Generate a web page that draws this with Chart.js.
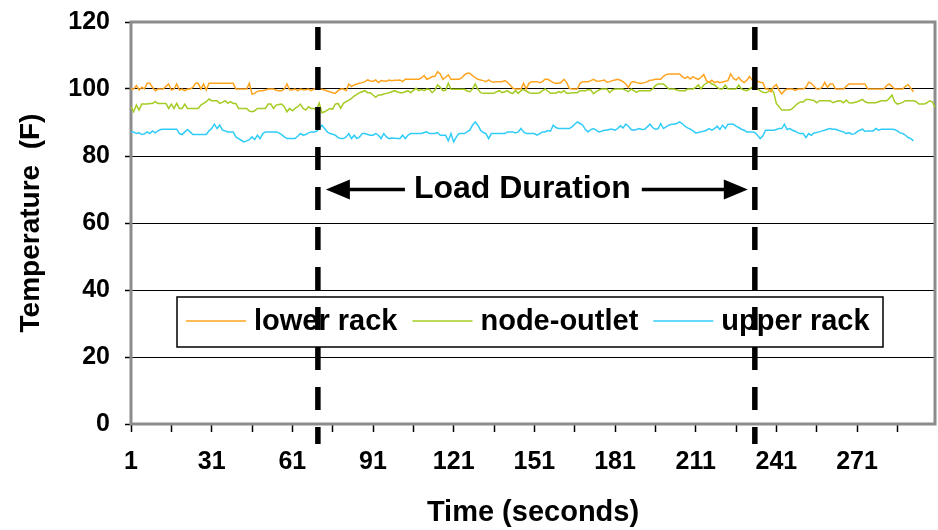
<!DOCTYPE html>
<html>
<head>
<meta charset="utf-8">
<title>Rack temperatures under load</title>
<script src="https://cdn.jsdelivr.net/npm/chart.js@4.4.1/dist/chart.umd.min.js"></script>
<style>
  html, body { margin: 0; padding: 0; background: #fff; }
  canvas { display: block; }
</style>
</head>
<body>
<canvas id="tempChart" width="938" height="530"></canvas>
<script>
// time axis: one sample per second
const seconds = Array.from({ length: 300 }, (_, i) => i + 1);
const tickEvery = 15;   // tick mark spacing (samples)
const labelEvery = 30;  // tick label spacing (samples)

const yTicks = { min: 0, max: 120, step: 20 };

// start / end of the load, in seconds, and where the caption sits (F)
const loadWindow = [70.5, 233];
const loadLabel = 'Load Duration';
const loadLabelTemp = 70;

const seriesNames = ['lower rack', 'node-outlet', 'upper rack'];
const seriesColors = ['#FFA41F', '#A4CC24', '#30CCF8'];

const lowerRack = [
  100, 100, 101, 99.7, 100.5, 100, 101.7, 101.7, 100.5, 99.5,
  100, 100, 100, 100.8, 101.5, 99.7, 100, 101.5, 99.7, 100,
  99.5, 100, 100, 100.5, 101.7, 101.7, 100, 101.5, 99.7, 101.7,
  101.7, 101.7, 101.7, 101.7, 101.7, 101.7, 101.7, 101.7, 101.7, 100,
  100, 100, 100, 100, 101.7, 98.5, 98.7, 99.3, 99.5, 99.5, 99.7,
  100, 100, 100, 99.6, 99.5, 99.5, 100, 101.5, 99.7, 99.8,
  100, 99.5, 100, 99.8, 99.8, 100, 99.5, 100, 100, 100,
  99.9, 99.7, 99.4, 99.2, 98.9, 98.7, 99.5, 100, 100,
  99.5, 101.5, 100.7, 101.2, 101.5, 101.7, 101.9, 102.2, 102.7, 102.4,
  102.3, 102.7, 101.9, 102.5, 102.4, 102.3, 102.7, 102.5, 102.6, 102.6,
  102.7, 102.2, 102.9, 102.9, 102.9, 102.9, 102.9, 102.9, 103.3, 104.0,
  102.9, 103.2, 103.7, 103.7, 105.2, 104.5, 102.9, 103.5, 104.2, 102.9,
  102.9, 102.9, 102.9, 103.3, 104.2, 104.7, 104.7, 104.0, 103.4, 102.9,
  102.7, 102.5, 102.2, 102.7, 102.2, 102.0, 102.2, 102.2, 102.2, 102.5,
  102.0, 101.2, 100.2, 100, 100, 100, 101.7, 100, 101.7, 102.2, 102.2,
  102.2, 101.9, 102.2, 102.9, 102.9, 102.4, 101.9, 101.7, 101.7, 102.0,
  102.9, 102.0, 100.2, 100, 100, 100, 101.7, 102.2, 102.2, 102.2,
  102.5, 102.9, 102.4, 102.3, 102.5, 102.7, 102.0, 102.2, 102.5, 102.7,
  102.9, 102.6, 102.2, 101.5, 100.4, 102.0, 102.2, 101.9, 101.7, 101.7,
  101.9, 102.2, 102.6, 102.7, 102.9, 102.9, 102.9, 103.8, 104.3, 104.5, 104.5,
  104.5, 104.5, 104.5, 103.7, 103.2, 103.7, 103.0, 103.7, 103.2,
  102.9, 103.5, 104.3, 102.5, 102.0, 102.6, 101.9, 102.2, 101.9, 102.1,
  102.3, 102.5, 104.5, 103.2, 102.7, 103.5, 102.5, 101.9, 102.6, 103.7,
  102.7, 102.4, 102.3, 102.0, 101.9, 100, 100, 99.2, 100.7, 101.3,
  99.7, 98.5, 99.5, 100, 100, 100, 99.6, 100, 100, 100,
  100.5, 102.0, 101.7, 100.8, 100, 100, 100.5, 102.0, 100.5, 101.5,
  101.5, 100, 100, 100, 100, 100.8, 101.5, 101.5, 101.5, 101.5,
  101.5, 101.5, 101.5, 100, 100, 100, 100, 100, 100, 100,
  101, 101.5, 100.8, 100, 100, 100, 100, 100.8, 101.3, 100.2, 99.2
];

const nodeOutlet = [
  94.7, 93.2, 95.2, 93.7, 95.5, 95.5, 95.5, 95.7, 95.7, 96.2,
  95.7, 95.7, 95.7, 95.7, 94.2, 95.5, 94.2, 95.7, 94.2, 94.2,
  95.5, 94.2, 94.2, 94.2, 94.2, 94.2, 95.2, 95.7, 96.2, 97,
  96.5, 96.5, 96.5, 95.7, 96.0, 96.5, 95.7, 96.2, 95.7, 95.7,
  94.2, 94.2, 94.2, 94.2, 93.4, 93.2, 93.5, 94.2, 94.2, 94.2, 94.2,
  95.5, 95.5, 94.2, 95.2, 95.4, 95.5, 94.7, 93.2, 94.2,
  93.5, 94.2, 94.7, 95.5, 94.2, 93.7, 94.7, 94.2, 94.2, 93.9,
  95.8, 92.9, 93.2, 93.7, 94.2, 94.0, 95.5, 95.7, 94.2, 95.7,
  96.2, 96.7, 97.2, 97.9, 98.4, 98.9, 99.2, 99.5, 98.9, 98.9,
  98.2, 97.5, 98.2, 98.2, 98.5, 98.7, 98.9, 99.2, 99.5, 99.2,
  98.9, 98.9, 99.2, 99.5, 98.9, 99.6, 100.2, 99.5, 99.8, 99.5,
  100, 99.9, 98.9, 99.7, 101.2, 100.5, 99.5, 99.6, 101.7, 99.9,
  99.9, 99.9, 99.9, 99.9, 99.9, 99.4, 99.2, 100.0, 101.5, 99.9,
  98.9, 98.7, 98.7, 98.7, 98.7, 98.7, 99.2, 99.5, 98.9, 99.2,
  99.5, 98.9, 98.7, 99.5, 98.7, 99.5, 99.8, 99.4, 98.9, 98.7, 98.7,
  98.7, 98.9, 99.5, 100, 99.4, 98.7, 98.7, 98.7, 99.2, 98.9,
  99.5, 98.7, 98.7, 98.9, 98.9, 98.9, 99.5, 99.5, 99.5, 99.8,
  99.7, 98.6, 99.2, 99.7, 100, 100, 100, 98.9, 99.7, 100,
  100, 100, 100, 99.6, 99.2, 100, 99.5, 99.0, 99.5, 99.5,
  99.5, 99.5, 99.5, 100, 101.0, 101.5, 101.5, 101.5, 100.8, 100, 100,
  100, 99.7, 99.5, 99.5, 99.5, 100, 100, 100, 100.5, 101.2,
  100, 101.2, 101.7, 102.2, 101.5, 101.2, 100.5, 100, 100,
  101.2, 100, 100, 100, 100, 101.2, 100, 99.7, 99.5, 100,
  100.5, 101.5, 100, 99.5, 99.0, 98.9, 99.2, 100, 99.0, 95.7,
  94.7, 93.7, 93.7, 93.7, 93.7, 94.2, 95.0, 95.7, 96.1, 96.1,
  96.9, 96.9, 96.7, 96.6, 95.9, 96.5, 96.5, 96.5, 96.5, 96.5,
  95.9, 96.2, 96.5, 96.4, 95.9, 96.7, 95.9, 95.8, 96.0, 96.2,
  96.5, 96.9, 96.2, 95.9, 95.9, 95.9, 95.9, 96.2, 96.5, 96.5,
  96.5, 97.2, 98.2, 96.2, 95.5, 95.7, 96.0, 96.5, 96.5, 96.5,
  96.5, 96.2, 95.5, 95.5, 95.5, 95.9, 96.5, 96.2, 94.5
];

const upperRack = [
  87.2, 87.2, 86.7, 86.9, 86.4, 86.6, 87.2, 86.7, 87.5, 86.9,
  87.5, 87.9, 88, 88, 88, 88, 88, 88, 86.7, 86.4,
  87.2, 87.9, 87.2, 86.4, 86.4, 86.4, 86.4, 86.4, 86.4, 87.5,
  88.2, 89.5, 88.2, 89.2, 87.7, 87.5, 87.2, 87.2, 87.2, 85.7,
  85.2, 84.7, 84.2, 84.5, 84.9, 85.7, 84.9, 86.2, 85.2, 86.7, 87.2,
  87.2, 87.2, 87.2, 87.2, 86.9, 86.4, 85.7, 85.2, 85.2,
  85.2, 85.2, 85.9, 86.7, 86.2, 86.4, 86.9, 87.2, 87.2, 87.4,
  88.2, 89.2, 88.2, 87.2, 86.7, 86.5, 86.2, 85.5, 85.2, 85.2,
  85.7, 86.7, 85.2, 86.2, 85.2, 85.7, 86.7, 86.7, 86.4, 86.2,
  86.2, 86.7, 86.2, 85.2, 86.7, 85.7, 85.2, 85.4, 85.3, 85.2,
  85.2, 86.2, 85.2, 86.2, 86.7, 86.7, 86.7, 86.7, 86.7, 87.0,
  87.2, 86.7, 86.7, 86.7, 87.0, 86.2, 86.2, 86.2, 84.5, 86.7,
  84.2, 85.7, 86.7, 86.7, 86.7, 87.2, 87.7, 89.2, 90.2, 89.2,
  87.7, 87.0, 86.7, 85.2, 86.7, 86.7, 86.7, 86.7, 86.7, 86.7,
  87.2, 87.2, 87.2, 86.9, 87.2, 88.2, 87.2, 86.7, 86.7, 86.7, 86.7,
  86.2, 86.7, 87.2, 87.2, 87.6, 87.4, 89.2, 88.5, 88.2, 88.2,
  88.2, 88.2, 88.2, 88.7, 89.5, 90.2, 89.7, 89.2, 87.9, 87.2,
  87.9, 88.2, 87.7, 87.2, 87.4, 87.7, 87.7, 88.0, 88.0, 87.7,
  88.2, 89.0, 88.4, 89.5, 88.9, 87.9, 87.7, 87.9, 88.2, 87.9,
  88.0, 88.7, 89.5, 88.5, 88.0, 88.1, 89.7, 88.2, 88.7, 89.2, 89.5,
  89.5, 89.7, 90.2, 89.7, 88.9, 88.4, 88.0, 87.5, 86.9, 87.0,
  87.2, 87.4, 87.7, 88.2, 87.7, 88.2, 88.9, 87.9, 89.2, 88.2,
  89.5, 89.5, 89.5, 88.9, 88.5, 88.0, 87.7, 87.2, 87.2, 87.2,
  87.0, 86.2, 85.2, 86.0, 87.7, 87.7, 87.7, 87.7, 87.9,
  88.2, 88.2, 89.5, 87.9, 88.2, 87.7, 87.4, 86.9, 86.7, 86.7,
  85.5, 86.7, 86.2, 86.9, 87.0, 87.2, 87.5, 87.7, 88.0, 88.2,
  88.0, 88.0, 87.7, 87.4, 87.2, 86.7, 87.0, 86.5, 86.6, 87.2,
  87.7, 88.0, 87.3, 87.5, 87.5, 87.5, 88.2, 87.7, 88.0, 88.0,
  88.0, 88.0, 88.0, 87.9, 87.5, 86.9, 86.7, 86.2, 85.5, 85.2, 84.5
];

const FONT = "'Liberation Sans', Arial, Helvetica, sans-serif";

// grey frame around the plot area
const plotFrame = {
  id: 'plotFrame',
  beforeDatasetsDraw(chart) {
    const { ctx, chartArea: a } = chart;
    ctx.save();
    ctx.strokeStyle = '#8c8c8c';
    ctx.lineWidth = 3;
    ctx.strokeRect(a.left, a.top, a.right - a.left, a.bottom - a.top);
    ctx.restore();
  }
};

// boxed legend inside the plot
const boxLegend = {
  id: 'boxLegend',
  afterDatasetsDraw(chart) {
    const { ctx } = chart;
    ctx.save();
    ctx.fillStyle = '#fff';
    ctx.fillRect(177, 297, 706, 50);
    ctx.strokeStyle = '#000';
    ctx.lineWidth = 1.5;
    ctx.strokeRect(177, 297, 706, 50);
    ctx.font = 'bold 29px ' + FONT;
    ctx.textAlign = 'left';
    ctx.textBaseline = 'alphabetic';
    let x = 186;
    chart.data.datasets.forEach(ds => {
      ctx.strokeStyle = ds.borderColor;
      ctx.lineWidth = 1.5;
      ctx.beginPath();
      ctx.moveTo(x, 321);
      ctx.lineTo(x + 60, 321);
      ctx.stroke();
      ctx.fillStyle = '#000';
      ctx.fillText(ds.label, x + 68, 330);
      x += 68 + ctx.measureText(ds.label).width + 15;
    });
    ctx.restore();
  }
};

// dashed start/end lines with the double arrow caption
const loadMarkers = {
  id: 'loadMarkers',
  afterDraw(chart) {
    const { ctx, chartArea: area, scales: { x, y } } = chart;
    const xs = loadWindow.map(s => x.getPixelForValue(s - 1));
    ctx.save();
    ctx.strokeStyle = '#000';
    ctx.lineWidth = 5.5;
    ctx.setLineDash([23, 17]);
    xs.forEach(px => {
      ctx.beginPath();
      ctx.moveTo(px, area.top + 5);
      ctx.lineTo(px, area.bottom + 20);
      ctx.stroke();
    });
    ctx.setLineDash([]);

    const yMid = y.getPixelForValue(loadLabelTemp);
    const tx = (xs[0] + xs[1]) / 2 - 14;
    ctx.font = 'bold 32px ' + FONT;
    ctx.textAlign = 'center';
    ctx.textBaseline = 'middle';
    ctx.fillStyle = '#000';
    ctx.fillText(loadLabel, tx, yMid);
    const tw = ctx.measureText(loadLabel).width;

    const arrow = (fromX, tipX) => {
      const dir = tipX > fromX ? 1 : -1;
      ctx.lineWidth = 3.5;
      ctx.beginPath();
      ctx.moveTo(fromX, yMid);
      ctx.lineTo(tipX - dir * 20, yMid);
      ctx.stroke();
      ctx.beginPath();
      ctx.moveTo(tipX, yMid);
      ctx.lineTo(tipX - dir * 24, yMid - 10);
      ctx.lineTo(tipX - dir * 24, yMid + 10);
      ctx.closePath();
      ctx.fill();
    };
    arrow(tx - tw / 2 - 9, xs[0] + 8);
    arrow(tx + tw / 2 + 11, xs[1] - 7);
    ctx.restore();
  }
};

const lineSet = (label, data, color) => ({
  label: label,
  data: data,
  borderColor: color,
  backgroundColor: color,
  borderWidth: 1.5,
  pointRadius: 0,
  tension: 0,
  fill: false
});

const ctx = document.getElementById('tempChart').getContext('2d');
new Chart(ctx, {
  type: 'line',
  data: {
    labels: seconds,
    datasets: [
      lineSet(seriesNames[0], lowerRack, seriesColors[0]),
      lineSet(seriesNames[1], nodeOutlet, seriesColors[1]),
      lineSet(seriesNames[2], upperRack, seriesColors[2])
    ]
  },
  options: {
    responsive: false,
    animation: false,
    layout: { padding: { top: 22, right: 3, bottom: 0, left: 0 } },
    plugins: {
      legend: { display: false },
      tooltip: { enabled: false }
    },
    scales: {
      x: {
        type: 'category',
        offset: false,
        afterFit: scale => { scale.height = 106; },
        border: { display: false },
        grid: {
          drawOnChartArea: false,
          drawTicks: true,
          tickLength: 8,
          tickWidth: 1.5,
          tickColor: c => (c.index % tickEvery === 0 ? '#000' : 'rgba(0,0,0,0)')
        },
        ticks: {
          autoSkip: false,
          maxRotation: 0,
          minRotation: 0,
          // tall line box keeps the labels clear of the tick marks
          padding: 0,
          color: '#000',
          font: { family: FONT, size: 25, weight: 'bold', lineHeight: 2.4 },
          callback: (value, index) => (index % labelEvery === 0 ? String(seconds[index]) : '')
        },
        title: {
          display: true,
          text: 'Time (seconds)',
          color: '#000',
          font: { family: FONT, size: 29, weight: 'bold' },
          padding: { top: 0, bottom: 0 }
        }
      },
      y: {
        min: yTicks.min,
        max: yTicks.max,
        afterFit: scale => { scale.width = 131; },
        border: { display: false },
        grid: {
          color: c => (c.tick && (c.tick.value === yTicks.min || c.tick.value === yTicks.max) ? 'rgba(0,0,0,0)' : '#000'),
          lineWidth: 1,
          tickLength: 6,
          tickWidth: 1.5,
          tickColor: '#000'
        },
        ticks: {
          stepSize: yTicks.step,
          padding: 15,
          color: '#000',
          font: { family: FONT, size: 25, weight: 'bold', lineHeight: 0.5 }
        },
        title: {
          display: true,
          text: 'Temperature  (F)',
          color: '#000',
          font: { family: FONT, size: 28, weight: 'bold' },
          padding: { top: 14, bottom: 0 }
        }
      }
    }
  },
  plugins: [plotFrame, boxLegend, loadMarkers]
});
</script>
</body>
</html>
